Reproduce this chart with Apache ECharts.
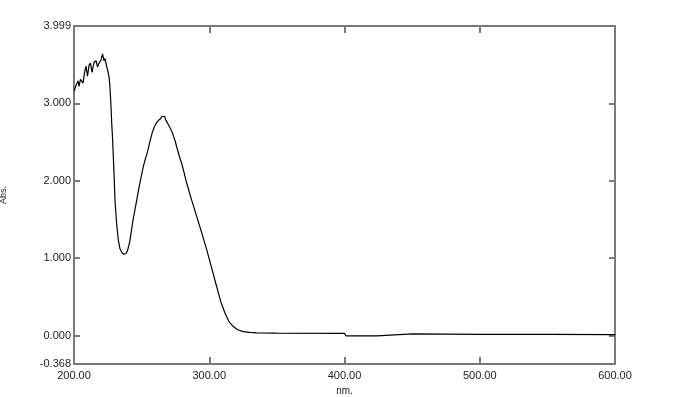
<!DOCTYPE html>
<html><head><meta charset="utf-8">
<script src="https://cdn.jsdelivr.net/npm/echarts@6/dist/echarts.min.js"></script>
<style>html,body{margin:0;padding:0;background:#fff}#c{width:676px;height:397px}</style>
</head><body><div id="c"></div>
<script>
const wavelengths = [200,201.5,203,203.7,204.8,205.9,206.7,207.8,208.9,210,211.1,212.2,213.3,214.8,216.3,217.4,218.5,220,221.1,222.2,222.9,224,225.1,
  226.0,226.6,227.3,227.9,228.5,229.1,229.7,230.3,231.5,232.8,234.0,235.5,237.0,238.5,239.6,240.5,241.4,242.5,243.6,245.0,246.4,247.6,248.8,250.0,251.2,252.5,253.8,255.0,256.5,258.0,259.5,261.0,262.5,264.0,265.0,265.6,266.3,267.0,268.0,269.0,270.5,272.0,273.5,275.0,276.5,278.0,280.0,283.3,287.0,290.7,294.4,298.1,301.8,305.5,308.5,311.6,314.5,317.8,321.0,325.2,330,335,350,400,401,424,425,450,500,550,600];
const absorbance = [3.16,3.23,3.29,3.22,3.31,3.33,3.26,3.40,3.48,3.35,3.49,3.52,3.40,3.53,3.55,3.47,3.52,3.56,3.64,3.55,3.58,3.49,3.41,
  3.33,3.21,2.98,2.74,2.55,2.30,2.05,1.75,1.45,1.23,1.12,1.07,1.05,1.06,1.10,1.16,1.23,1.36,1.49,1.62,1.75,1.87,1.98,2.08,2.18,2.27,2.34,2.42,2.53,2.63,2.70,2.75,2.78,2.80,2.83,2.85,2.82,2.83,2.78,2.75,2.70,2.65,2.58,2.50,2.40,2.31,2.20,1.97,1.75,1.54,1.33,1.11,0.87,0.63,0.44,0.29,0.18,0.116,0.075,0.05,0.04,0.035,0.032,0.028,-0.004,-0.004,0.019,0.02,0.016,0.014,0.012];
const xTicks = [200,300,400,500,600];
const yLabelValues = [-0.368,0,1,2,3,3.999];
const yTickValues = [0,1,2,3];

const axisColor = '#7a7a7a';
const chart = echarts.init(document.getElementById('c'));
chart.setOption({
  animation:false,
  grid:{left:74,right:61,top:26,bottom:33,outerBoundsMode:'none',containLabel:false},
  xAxis:[{
    type:'value',min:200,max:600,interval:100,position:'bottom',
    name:'nm.',nameLocation:'middle',nameGap:20,
    nameTextStyle:{fontFamily:'Liberation Sans',fontSize:10,color:'#222'},
    axisLine:{show:true,onZero:false,lineStyle:{color:axisColor,width:2}},
    axisTick:{show:true,inside:true,length:7,lineStyle:{color:axisColor,width:2},customValues:xTicks},
    axisLabel:{fontFamily:'Liberation Sans',fontSize:11,color:'#222',margin:6,formatter:v=>v.toFixed(2),customValues:xTicks},
    splitLine:{show:false}
  },{
    type:'value',min:200,max:600,interval:100,position:'top',
    axisLine:{show:true,onZero:false,lineStyle:{color:axisColor,width:2}},
    axisTick:{show:true,inside:true,length:7,lineStyle:{color:axisColor,width:2}},
    axisLabel:{show:false},splitLine:{show:false}
  }],
  yAxis:[{
    type:'value',min:-0.368,max:3.999,position:'left',
    name:'Abs.',nameLocation:'middle',nameGap:66,nameRotate:90,
    nameTextStyle:{fontFamily:'Liberation Sans',fontSize:9,color:'#222'},
    axisLine:{show:true,onZero:false,lineStyle:{color:axisColor,width:2}},
    axisTick:{show:true,inside:true,length:6,lineStyle:{color:axisColor,width:2},customValues:yTickValues},
    axisLabel:{fontFamily:'Liberation Sans',fontSize:11,color:'#222',margin:3,formatter:v=>v.toFixed(3),customValues:yLabelValues},
    splitLine:{show:false}
  },{
    type:'value',min:-0.368,max:3.999,position:'right',
    axisLine:{show:true,onZero:false,lineStyle:{color:axisColor,width:2}},
    axisTick:{show:true,inside:true,length:6,lineStyle:{color:axisColor,width:2},customValues:yTickValues},
    axisLabel:{show:false},splitLine:{show:false}
  }],
  series:[{
    type:'line',xAxisIndex:0,yAxisIndex:0,
    data:wavelengths.map((w,i)=>[w,absorbance[i]]),
    showSymbol:false,smooth:false,
    lineStyle:{color:'#000',width:1.2}
  }]
});
</script></body></html>
